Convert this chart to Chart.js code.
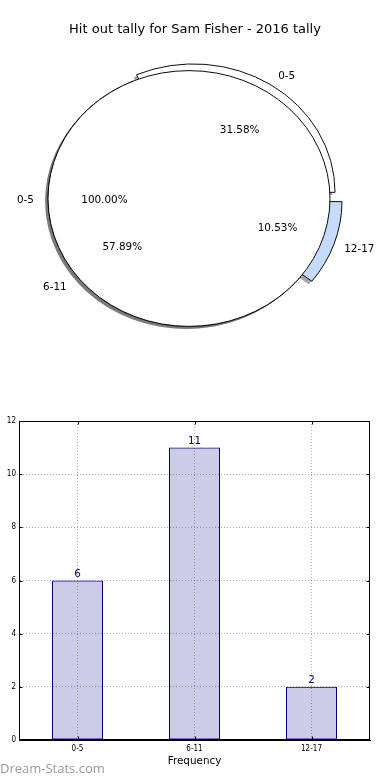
<!DOCTYPE html>
<html><head><meta charset="utf-8">
<script src="https://cdn.jsdelivr.net/npm/chart.js@4.4.1/dist/chart.umd.min.js"></script>
<style>
html,body{margin:0;padding:0;background:#fff;}
#wrap{position:relative;width:390px;height:780px;overflow:hidden;background:#fff;}
canvas{position:absolute;left:0;}
</style></head><body>
<div id="wrap">
<canvas id="pieOuter" width="390" height="400" style="top:0"></canvas>
<canvas id="pieInner" width="390" height="400" style="top:0"></canvas>
<canvas id="bar" width="390" height="380" style="top:400px"></canvas>
</div>
<script>
// ---- data ----
const titleText = 'Hit out tally for Sam Fisher - 2016 tally';
const categories = ['0-5', '6-11', '12-17'];
const hitOuts = [6, 11, 2];
const innerCategories = ['0-5'];
const innerValues = [1];
const yTickValues = [0, 2, 4, 6, 8, 10, 12];
const xAxisTitle = 'Frequency';
const yAxisTitle = 'Sum Hit Outs';
const watermark = 'Dream-Stats.com';

// ---- styles ----
const sliceColors = ['#ffffff', '#ffffff', '#c6dafb'];
const sliceExplode = [8, 0, 9];
const PIE_RADIUS = 141;
const PIE_RATIO = 0.907;
const PIE_FONT = 10.4;
const LABEL_SHIFT = 2;
const SMALL_FONT = "'DejaVu Sans Condensed', 'Liberation Sans Narrow', 'DejaVu Sans'";

Chart.defaults.font.family = "'DejaVu Sans', sans-serif";
Chart.defaults.color = '#000';

// matplotlib draws counter-clockwise from 3 o'clock; Chart.js goes clockwise -> reverse
const pieCats = categories.slice().reverse();
const pieVals = hitOuts.slice().reverse();
const pieCols = sliceColors.slice().reverse();
const pieOffs = sliceExplode.slice().reverse().map(e => e * 4);

function arcGeom(a) {
  const mid = (a.startAngle + a.endAngle) / 2;
  const e = (a.options.offset || 0) / 4;
  const circ = a.endAngle - a.startAngle;
  const fix = 1 - Math.sin(Math.min(Math.PI, circ));
  return { mid, e, r: a.outerRadius + e * fix, x: a.x + Math.cos(mid) * e, y: a.y + Math.sin(mid) * e, circ };
}

const ellipse = {
  id: 'ellipse',
  beforeDatasetsDraw(chart, args, opts) {
    const arcs = chart.getDatasetMeta(0).data;
    const ctx = chart.ctx;
    const cx = arcs[0].x, cy = arcs[0].y;
    ctx.save();
    ctx.translate(cx, cy); ctx.scale(1, PIE_RATIO); ctx.translate(-cx, -cy);
    ctx.save();
    ctx.translate(-0.02 * PIE_RADIUS, 0.02 * PIE_RADIUS);
    ctx.fillStyle = 'rgba(77,77,77,0.5)';
    arcs.forEach(a => {
      const g = arcGeom(a);
      ctx.beginPath();
      if (g.circ >= 2 * Math.PI - 1e-6) {
        ctx.arc(g.x, g.y, g.r, 0, 2 * Math.PI);
      } else {
        ctx.moveTo(g.x, g.y);
        ctx.arc(g.x, g.y, g.r, a.startAngle, a.endAngle);
        ctx.closePath();
      }
      ctx.fill();
    });
    ctx.restore();
  },
  afterDatasetsDraw(chart, args, opts) {
    const ctx = chart.ctx;
    if (opts && opts.outline) {
      chart.getDatasetMeta(0).data.forEach(a => {
        ctx.beginPath();
        ctx.arc(a.x, a.y, a.outerRadius, 0, 2 * Math.PI);
        ctx.lineWidth = 1;
        ctx.strokeStyle = '#000';
        ctx.stroke();
      });
    }
    ctx.restore();
  }
};

const pieCommon = (outline) => ({
  responsive: false, animation: false, events: [],
  rotation: 90, radius: PIE_RADIUS,
  layout: { padding: { left: 0, right: 12, top: 0, bottom: 3 } },
  plugins: { legend: { display: false }, tooltip: { enabled: false }, title: { display: false }, ellipse: { outline } }
});

const outerChart = new Chart(document.getElementById('pieOuter'), {
  type: 'pie',
  data: { labels: pieCats, datasets: [{ data: pieVals, backgroundColor: pieCols, borderColor: '#000', borderWidth: 1, offset: pieOffs, hoverOffset: 0 }] },
  options: pieCommon(false),
  plugins: [ellipse]
});

const pieLabels = {
  id: 'pieLabels',
  afterDraw(chart) {
    const ctx = chart.ctx;
    ctx.save();
    ctx.fillStyle = '#000';
    ctx.textBaseline = 'middle';
    ctx.textAlign = 'center';
    ctx.font = "13px 'DejaVu Sans'";
    ctx.fillText(titleText, chart.width / 2, 30);
    ctx.font = PIE_FONT + "px 'DejaVu Sans'";
    [[outerChart, pieCats, pieVals], [chart, innerCategories, innerValues]].forEach(([c, labels, values]) => {
      const total = values.reduce((s, v) => s + v, 0);
      c.getDatasetMeta(0).data.forEach((a, i) => {
        const g = arcGeom(a);
        const R = a.outerRadius;
        const cs = Math.cos(g.mid), sn = Math.sin(g.mid);
        const lr = 1.1 * R + g.e, pr = 0.6 * R + g.e;
        ctx.textAlign = cs > 0 ? 'left' : 'right';
        ctx.fillText(labels[i], a.x + cs * lr, a.y + sn * lr * PIE_RATIO + LABEL_SHIFT);
        ctx.textAlign = 'center';
        ctx.fillText((values[i] / total * 100).toFixed(2) + '%', a.x + cs * pr, a.y + sn * pr * PIE_RATIO + LABEL_SHIFT);
      });
    });
    ctx.restore();
  }
};

new Chart(document.getElementById('pieInner'), {
  type: 'pie',
  data: { labels: innerCategories, datasets: [{ data: innerValues, backgroundColor: '#ffffff', borderWidth: 0, hoverOffset: 0 }] },
  options: pieCommon(true),
  plugins: [ellipse, pieLabels]
});

// ---- bar chart ----
const GRID = 'rgba(0,0,0,0.32)';
const barValues = {
  id: 'barValues',
  afterDatasetsDraw(chart) {
    const ctx = chart.ctx;
    ctx.save();
    ctx.font = "10.4px 'DejaVu Sans'";
    ctx.fillStyle = '#000080';
    ctx.textAlign = 'center';
    ctx.textBaseline = 'alphabetic';
    chart.getDatasetMeta(0).data.forEach((b, i) => ctx.fillText(String(hitOuts[i]), b.x, b.y - 4));
    ctx.restore();
  }
};
const frame = {
  id: 'frame',
  afterDraw(chart) {
    const ctx = chart.ctx, a = chart.chartArea;
    const l = Math.round(a.left) + 0.5, r = Math.round(a.right) - 0.5, t = Math.round(a.top) + 0.5, b = Math.round(a.bottom) - 0.5;
    ctx.save();
    ctx.strokeStyle = '#000'; ctx.lineWidth = 1;
    ctx.strokeRect(l, t, r - l, b - t);
    ctx.beginPath();
    const ys = chart.scales.y, xs = chart.scales.x;
    yTickValues.forEach(v => {
      const p = Math.round(ys.getPixelForValue(v)) + 0.5;
      ctx.moveTo(l, p); ctx.lineTo(l + 3, p);
      ctx.moveTo(r, p); ctx.lineTo(r - 3, p);
    });
    categories.forEach((c, i) => {
      const p = Math.round(xs.getPixelForValue(i)) + 0.5;
      ctx.moveTo(p, b); ctx.lineTo(p, b - 3);
      ctx.moveTo(p, t); ctx.lineTo(p, t + 3);
    });
    ctx.stroke();
    ctx.font = "13px 'Open Sans'";
    ctx.fillStyle = '#9a9a9a';
    ctx.textAlign = 'left';
    ctx.textBaseline = 'alphabetic';
    ctx.fillText(watermark, 0, chart.height - 7);
    ctx.restore();
  }
};

new Chart(document.getElementById('bar'), {
  type: 'bar',
  data: { labels: categories, datasets: [{ data: hitOuts, backgroundColor: 'rgba(0,0,128,0.2)', borderColor: '#000080', borderWidth: 1, borderSkipped: false, barPercentage: 51 / 117, categoryPercentage: 1 }] },
  options: {
    responsive: false, animation: false, events: [],
    layout: { padding: { left: -8.5, right: 20, top: 21, bottom: 0 } },
    plugins: { legend: { display: false }, tooltip: { enabled: false } },
    scales: {
      x: {
        grid: { offset: false, color: GRID, lineWidth: 1, drawTicks: false },
        border: { display: true, color: '#000', width: 1, dash: [1, 2] },
        ticks: { font: { family: SMALL_FONT, size: 8 }, padding: 4, color: '#000' },
        title: { display: true, text: xAxisTitle, font: { size: 10.4 }, padding: { top: 0, bottom: 12.8 }, color: '#000' },
        afterFit(s) { s.height = 40; }
      },
      y: {
        min: 0, max: 12,
        afterBuildTicks(s) { s.ticks = yTickValues.map(v => ({ value: v })); },
        grid: { color: GRID, lineWidth: 1, drawTicks: false },
        border: { display: true, color: '#000', width: 1, dash: [1, 2] },
        ticks: { font: { family: SMALL_FONT, size: 8 }, padding: 3, color: '#000' },
        title: { display: true, text: yAxisTitle, font: { size: 10.4 }, padding: { top: 0, bottom: 0 }, color: '#000' },
        afterFit(s) { s.width = 27.5; }
      }
    }
  },
  plugins: [barValues, frame]
});
</script>
</body></html>
